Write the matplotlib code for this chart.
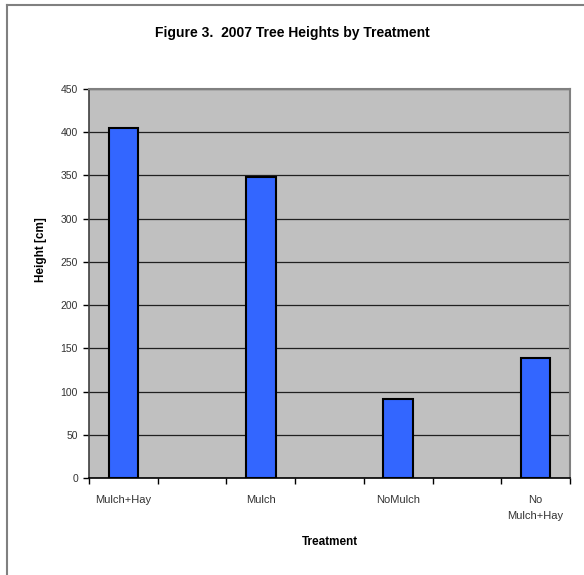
import matplotlib
matplotlib.use("Agg")
import matplotlib.pyplot as plt
from matplotlib.lines import Line2D

plt.rcParams['font.family'] = ['Liberation Sans', 'DejaVu Sans']

# Treatment groups (with blank slots between them) and mean tree heights
categories = ["Mulch+Hay", "", "Mulch", "", "NoMulch", "", "No\nMulch+Hay"]
heights = [405, None, 348, None, 91, None, 139]
y_ticks = [0, 50, 100, 150, 200, 250, 300, 350, 400, 450]

W, H = 584, 575
fig = plt.figure(figsize=(W / 100, H / 100), dpi=100)
fig.patch.set_facecolor("white")

# chart border (left and top edges visible)
fig.add_artist(Line2D([7 / W, 7 / W], [0, 1 - 5 / H], color="#808080", lw=1.5,
                      transform=fig.transFigure))
fig.add_artist(Line2D([7 / W, 1], [1 - 5 / H, 1 - 5 / H], color="#808080", lw=1.5,
                      transform=fig.transFigure))

ax = fig.add_axes([89 / W, (H - 478) / H, (570 - 89) / W, (478 - 89) / H])
ax.set_facecolor("#C0C0C0")

xs = [i for i, v in enumerate(heights) if v is not None]
vals = [v for v in heights if v is not None]
ax.bar(xs, vals, width=0.43, color="#3366FF", edgecolor="black", linewidth=1.5, zorder=3)

ax.set_xlim(-0.5, len(categories) - 0.5)
ax.set_ylim(0, 450)
ax.set_yticks(y_ticks)
ax.yaxis.grid(True, color="#202020", linewidth=0.9, zorder=1)
ax.set_axisbelow(True)

# category boundaries get tick marks; labels sit at category centres
ax.set_xticks([i - 0.5 for i in range(len(categories) + 1)])
ax.set_xticklabels([])
ax.set_xticks(range(len(categories)), minor=True)
labels = ax.set_xticklabels(categories, minor=True, fontsize=8, color="#333333")
for lab in labels:
    lab.set_linespacing(1.75)
ax.tick_params(axis="x", which="minor", length=0, pad=12)
ax.tick_params(axis="x", which="major", length=4, color="black", width=1)
ax.tick_params(axis="y", length=4, width=1, color="black", labelsize=7.5, pad=4,
               labelcolor="#333333")

for side in ("top", "right"):
    ax.spines[side].set_color("#808080")
    ax.spines[side].set_linewidth(1.5)
ax.spines["left"].set_color("#404040")
ax.spines["left"].set_linewidth(1.2)
ax.spines["bottom"].set_color("black")
ax.spines["bottom"].set_linewidth(1.2)

fig.text(292 / W, 1 - 33 / H, "Figure 3.  2007 Tree Heights by Treatment",
         ha="center", va="center", fontsize=10, fontweight="bold")
ax.set_xlabel("Treatment", fontsize=8.5, fontweight="bold", labelpad=11)
fig.text(41 / W, 1 - 250 / H, "Height [cm]", rotation=90, ha="center", va="center",
         fontsize=8.5, fontweight="bold")

fig.savefig("out.png", dpi=100)
